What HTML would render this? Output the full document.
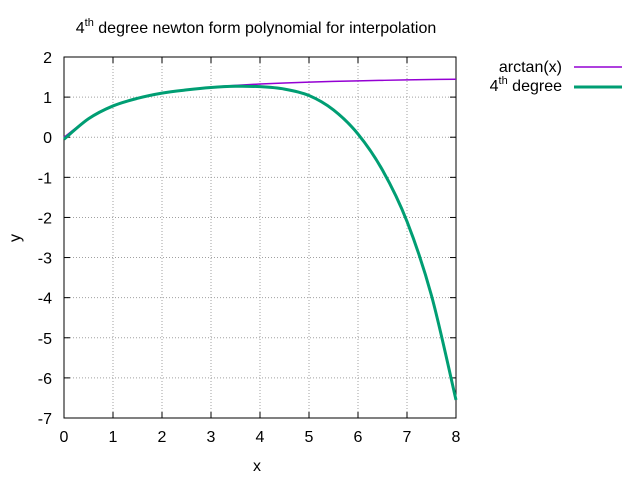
<!DOCTYPE html>
<html><head><meta charset="utf-8"><style>
body{margin:0;background:#fff;}
svg text{font-family:"Liberation Sans",sans-serif;font-size:16px;fill:#000;}
</style></head><body>
<svg id="chart" width="640" height="480" xmlns="http://www.w3.org/2000/svg">
<rect width="640" height="480" fill="#fff"/>
<g id="grid"></g><g id="axes"></g><g id="series"></g>
<text x="256" y="33" text-anchor="middle">4<tspan dy="-7" font-size="11">th</tspan><tspan dy="7"> degree newton form polynomial for interpolation</tspan></text>
<text x="257" y="471" text-anchor="middle">x</text>
<text x="20" y="238" text-anchor="middle" transform="rotate(-90 20 238)">y</text>
<g>
<text x="562" y="72" text-anchor="end">arctan(x)</text>
<line x1="574" y1="67" x2="622" y2="67" stroke="#9400d3" stroke-width="1.5"/>
<text x="562" y="91" text-anchor="end">4<tspan dy="-7" font-size="11">th</tspan><tspan dy="7"> degree</tspan></text>
<line x1="574" y1="87" x2="622" y2="87" stroke="#009e73" stroke-width="3"/>
</g>
</svg>
<script>
const xValues=[0,0.5,1,1.5,2,2.5,3,3.5,4,4.5,5,5.5,6,6.5,7,7.5,8];
const arctanValues=[0,0.46,0.785,0.98,1.107,1.19,1.249,1.292,1.326,1.352,1.373,1.391,1.406,1.418,1.429,1.438,1.446];
const polyValues=[-0.05,0.46,0.78,0.97,1.1,1.18,1.24,1.27,1.26,1.2,1.04,0.68,0.08,-0.82,-2.1,-3.95,-6.55];
const xTicks=[0,1,2,3,4,5,6,7,8];
const yTicks=[2,1,0,-1,-2,-3,-4,-5,-6,-7];
const L=64,R=456,T=57,B=418;
const sx=v=>L+(v-0)/(8-0)*(R-L);
const sy=v=>T+(2-v)/(2+7)*(B-T);
const NS="http://www.w3.org/2000/svg";
function mk(tag,attrs,parent){const e=document.createElementNS(NS,tag);for(const k in attrs)e.setAttribute(k,attrs[k]);parent.appendChild(e);return e;}
const grid=document.getElementById('grid'),axes=document.getElementById('axes'),series=document.getElementById('series');
xTicks.forEach(t=>{
 if(t>0&&t<8){const g=mk('line',{x1:sx(t),x2:sx(t),y1:T,y2:B,stroke:'#a0a0a0','stroke-dasharray':'1,2','stroke-width':1},grid);
 
 }
 const tx=mk('text',{x:sx(t),y:B+24,'text-anchor':'middle'},axes);tx.textContent=t;
 
 
 mk('line',{x1:sx(t),x2:sx(t),y1:B,y2:B-6,stroke:'#000'},axes);
 mk('line',{x1:sx(t),x2:sx(t),y1:T,y2:T+6,stroke:'#000'},axes);
});
yTicks.forEach(t=>{
 if(t<2&&t>-7){const g=mk('line',{x1:L,x2:R,y1:sy(t),y2:sy(t),stroke:'#a0a0a0','stroke-dasharray':'1,2','stroke-width':1},grid);
 
 }
 const tx=mk('text',{x:L-12,y:sy(t)+6,'text-anchor':'end'},axes);tx.textContent=t;
 
 
 mk('line',{x1:L,x2:L+6,y1:sy(t),y2:sy(t),stroke:'#000'},axes);
 mk('line',{x1:R,x2:R-6,y1:sy(t),y2:sy(t),stroke:'#000'},axes);
});
const frame=mk('rect',{x:L,y:T,width:R-L,height:B-T,fill:'none',stroke:'#000'},axes);


function smoothPath(a){
 const p=xValues.map((x,i)=>[sx(x),sy(a[i])]);
 let d='M'+p[0][0]+','+p[0][1];
 for(let i=0;i<p.length-1;i++){
  const p0=p[Math.max(i-1,0)],p1=p[i],p2=p[i+1],p3=p[Math.min(i+2,p.length-1)];
  const c1=[p1[0]+(p2[0]-p0[0])/6,p1[1]+(p2[1]-p0[1])/6];
  const c2=[p2[0]-(p3[0]-p1[0])/6,p2[1]-(p3[1]-p1[1])/6];
  d+=' C'+c1+' '+c2+' '+p2;
 }
 return d;
}
const l1=mk('path',{d:smoothPath(arctanValues),fill:'none',stroke:'#9400d3','stroke-width':1.5},series);


const l2=mk('path',{d:smoothPath(polyValues),fill:'none',stroke:'#009e73','stroke-width':3,'stroke-linejoin':'round'},series);


</script>
</body></html>
